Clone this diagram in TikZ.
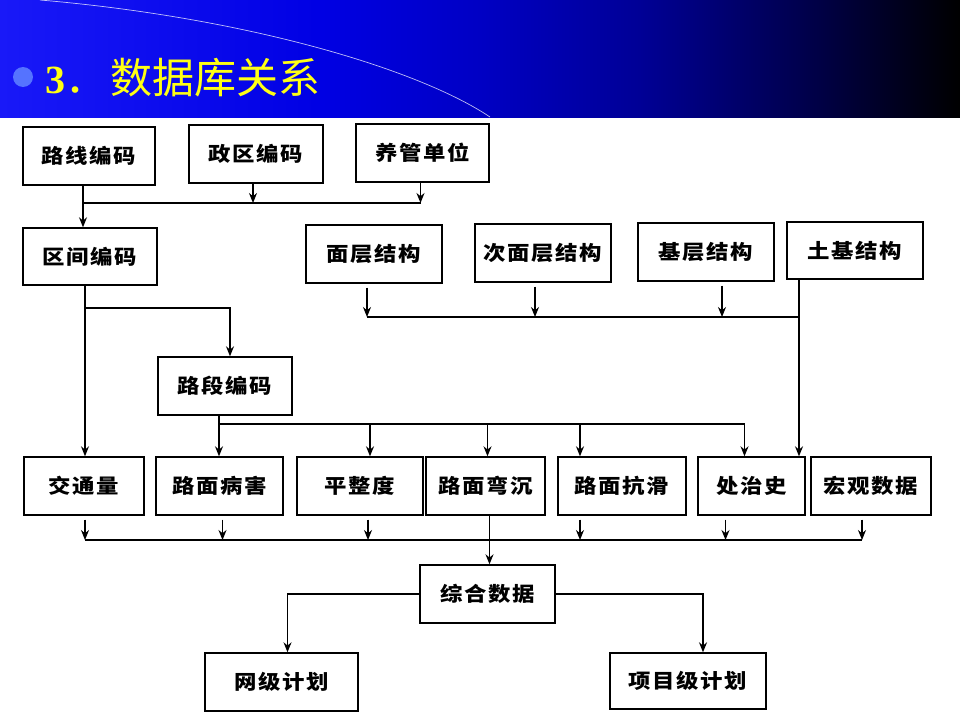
\documentclass[tikz,border=0pt]{standalone}
\usepackage{fontspec}
\usepackage{xcolor}
\usepackage{tikz}
\usetikzlibrary{arrows.meta}
\newfontfamily\cjk[FakeStretch=1.12,LetterSpace=8]{Noto Sans CJK SC}
\newfontfamily\cjktitle{Noto Sans CJK SC}
\newfontfamily\lattitle{Liberation Serif}
\definecolor{hdrA}{RGB}{25,25,248}
\definecolor{hdrB}{RGB}{0,0,228}
\definecolor{hdrC}{RGB}{0,0,196}
\definecolor{hdrD}{RGB}{0,0,150}
\definecolor{hdrE}{RGB}{0,0,78}
\definecolor{bulletblue}{RGB}{85,115,255}
\definecolor{titleyellow}{RGB}{255,255,20}
\pgfdeclarehorizontalshading{hdrshade}{100bp}{color(0bp)=(hdrA); color(25bp)=(hdrA); color(41.5bp)=(hdrB); color(50bp)=(hdrC); color(58.3bp)=(hdrD); color(66.7bp)=(hdrE); color(75bp)=(black); color(100bp)=(black)}

\begin{document}
\begin{tikzpicture}[x=1pt,y=-1pt,line width=1.2pt,
  >={Stealth[length=10pt,width=8pt]},
  box/.style={draw, line width=1.4pt, minimum height=58pt, inner sep=0pt,
    font=\cjk\bfseries\fontsize{20}{24}\selectfont},
  titletext/.style={anchor=base west, inner sep=0pt}]
\useasboundingbox (0,0) rectangle (960,720);
\fill [white] (0,0) rectangle (960,720);
\shade [shading=hdrshade] (0,0) rectangle (960,117);
\draw [white, line width=0.7pt, opacity=0.75] (40,0) .. controls (250,18) and (420,70) .. (490,117);
\fill [bulletblue] (23,77) circle [radius=10];
\node [titletext, text=titleyellow] (title) at (45,93)
  {{\lattitle\bfseries\fontsize{40}{40}\selectfont 3}{\cjktitle\fontsize{42}{42}\selectfont ．\kern3pt 数据库关系}};

\node [box, minimum width=132pt] (lx) at (89,156) {路线编码};
\node [box, minimum width=134pt] (zq) at (256,154) {政区编码};
\node [box, minimum width=133pt] (yg) at (422.5,153) {养管单位};
\node [box, minimum width=134pt, minimum height=57pt] (qj) at (90,256.5) {区间编码};
\node [box, minimum width=134pt] (lds) at (225,386) {路段编码};
\node [box, minimum width=136pt] (mc) at (374,254) {面层结构};
\node [box, minimum width=136pt] (cmc) at (543,253) {次面层结构};
\node [box, minimum width=136pt] (jc) at (706,252) {基层结构};
\node [box, minimum width=136pt, minimum height=57pt] (tj) at (855,250.5) {土基结构};

\node [box, minimum width=120pt] (jtl) at (84,486) {交通量};
\node [box, minimum width=127pt] (bh) at (219.5,486) {路面病害};
\node [box, minimum width=126pt] (pzd) at (360,486) {平整度};
\node [box, minimum width=119pt] (wc) at (485.5,486) {路面弯沉};
\node [box, minimum width=128pt] (kh) at (622,486) {路面抗滑};
\node [box, minimum width=107pt] (cz) at (751.5,486) {处治史};
\node [box, minimum width=120pt] (hg) at (871,486) {宏观数据};

\node [box, minimum width=135pt] (zh) at (487.5,594) {综合数据};
\node [box, minimum width=153pt] (wj) at (281.5,682) {网级计划};
\node [box, minimum width=156pt, minimum height=56pt] (xm) at (688,681) {项目级计划};

\coordinate (bus1) at (83,203);
\draw [->] ([xshift=-6]lx.south) -- ([xshift=-6]lx.south |- qj.north);
\draw (bus1) -- ([xshift=-2]yg.south |- bus1);
\draw [->] ([xshift=-3]zq.south) -- ([xshift=-3]zq.south |- bus1);
\draw [->] ([xshift=-2]yg.south) -- ([xshift=-2]yg.south |- bus1);

\coordinate (bus2) at (85,308);
\draw [->] ([xshift=-5]qj.south) -- ([xshift=-5]qj.south |- jtl.north);
\draw [->] (bus2) -| ([xshift=5]lds.north);

\coordinate (bus3) at (219,424);
\draw [->] ([xshift=-6]lds.south) -- ([xshift=-6]lds.south |- bh.north);
\draw (bus3) -- ([xshift=-7]cz.north |- bus3);
\foreach \n/\dx in {pzd/10, wc/2, kh/-42, cz/-7}
  \draw [->] ([xshift=\dx]\n.north |- bus3) -- ([xshift=\dx]\n.north);

\coordinate (bus4) at (367,317);
\coordinate (tjx) at ([xshift=-56]tj.south);
\draw [->] (tjx) -- (tjx |- cz.north);
\draw (bus4) -- (bus4 -| tjx);
\foreach \n/\dx in {mc/-7, cmc/-8, jc/16}
  \draw [->, shorten <=4pt] ([xshift=\dx]\n.south) -- ([xshift=\dx]\n.south |- bus4);

\coordinate (bus5) at (85,540);
\draw (bus5) -- ([xshift=-9]hg.south |- bus5);
\foreach \n/\dx in {jtl/1, bh/3, pzd/8, kh/-42, cz/-26, hg/-9}
  \draw [->, shorten <=4pt] ([xshift=\dx]\n.south) -- ([xshift=\dx]\n.south |- bus5);
\draw [->] ([xshift=4]wc.south) -- ([xshift=4]wc.south |- zh.north);

\draw [->] (zh.west) -| ([xshift=6]wj.north);
\draw [->] (zh.east) -| ([xshift=15]xm.north);
\end{tikzpicture}
\end{document}
